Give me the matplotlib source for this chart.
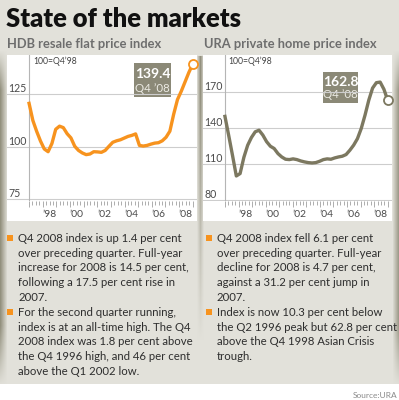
import matplotlib
matplotlib.use('Agg')
import matplotlib.pyplot as plt
from matplotlib.patches import Rectangle
import matplotlib.transforms as mtransforms
import numpy as np

plt.rcParams['font.family'] = ['Lato', 'DejaVu Sans']

# quarterly index, Q1 1998 .. Q4 2008 (100 = Q4 1998)
hdb_index = [120.7, 112.5, 107.3, 102.7, 98.9, 97.6, 101.5, 108.3, 109.8, 109.1,
             106.2, 104.2, 100.2, 98.2, 97.0, 96.2, 96.5, 97.6, 97.5, 97.3,
             98.2, 100.2, 102.1, 102.8, 103.3, 104.1, 104.9, 105.4, 106.1, 100.6,
             100.3, 100.6, 101.2, 101.7, 101.9, 102.8, 104.5, 107.4, 115.5, 122.5,
             126.5, 131.0, 135.5, 139.4]
ura_index = [149.5, 133.5, 117.0, 100.0, 102.0, 115.5, 125.5, 132.0, 136.7, 138.0,
             134.0, 128.5, 124.7, 122.8, 118.6, 115.8, 113.9, 113.6, 114.2, 113.6,
             112.5, 111.7, 111.1, 110.8, 111.1, 112.2, 113.6, 114.2, 113.9, 115.0,
             115.8, 116.4, 117.8, 121.4, 125.6, 131.0, 139.4, 150.5, 163.0, 173.0,
             177.5, 178.0, 172.0, 162.8]
last_quarter = "Q4 \u201908"
year_labels = ["\u201998", "\u201900", "\u201902", "\u201904", "\u201906", "\u201908"]
hdb_ticks = [75, 100, 125]
ura_ticks = [80, 110, 140, 170]

title = "State of the markets"
hdb_title = "HDB resale flat price index"
ura_title = "URA private home price index"
base_note = "100=Q4\u201998"
hdb_notes = [
    ["Q4 2008 index is up 1.4 per cent", "over preceding quarter. Full-year",
     "increase for 2008 is 14.5 per cent,", "following a 17.5 per cent rise in", "2007."],
    ["For the second quarter running,", "index is at an all-time high. The Q4",
     "2008 index was 1.8 per cent above", "the Q4 1996 high, and 46 per cent",
     "above the Q1 2002 low."],
]
ura_notes = [
    ["Q4 2008 index fell 6.1 per cent", "over preceding quarter. Full-year",
     "decline for 2008 is 4.7 per cent,", "against a 31.2 per cent jump in", "2007."],
    ["Index is now 10.3 per cent below", "the Q2 1996 peak but 62.8 per cent",
     "above the Q4 1998 Asian Crisis", "trough."],
]

W, H = 399, 400
ORANGE = '#f7931e'
OLIVE = '#7c7860'
BOX = '#8b8977'
BEIGE = np.array([226, 225, 218]) / 255.0
SHADE = np.array([128, 125, 104]) / 255.0

fig = plt.figure(figsize=(W / 100, H / 100), dpi=100)

# background with soft shadows at the edges
bg = np.ones((H, W, 3)) * BEIGE
ys = np.arange(H)[:, None]
xs = np.arange(W)[None, :]
side_v = np.clip((ys - 50) / 40, 0, 1) * np.clip((385 - ys) / 60, 0, 1)
left = np.clip(1 - xs / 7.0, 0, 1) * side_v * 0.8
right = np.clip((xs - 392) / 7.0, 0, 1) * side_v * 0.8
mid_v = np.clip((340 - ys) / 250, 0, 1) * (ys > 55)
mid = np.clip(1 - np.abs(xs - 200) / 3.5, 0, 1) * mid_v * 0.8
shade = np.clip(left + right + mid, 0, 1)[..., None]
bg = bg * (1 - shade) + SHADE * shade
bg[384:, :, :] = 1.0

ax_bg = fig.add_axes([0, 0, 1, 1])
ax_bg.imshow(bg, extent=(0, W, H, 0), aspect='auto', interpolation='bilinear')
ax_bg.set_xlim(0, W)
ax_bg.set_ylim(H, 0)
ax_bg.axis('off')

ax_bg.text(6, 19, title, fontsize=18.4, fontweight='heavy', color='#111111', va='center')
ax_bg.text(7, 44, hdb_title, fontsize=9.3, fontweight='bold', color='#6e6e6e', va='center')
ax_bg.text(204, 44, ura_title, fontsize=9.3, fontweight='bold', color='#6e6e6e', va='center')


def draw_panel(x0, x1, values, ticks, ylim, color, box, notes, bullet_x):
    ax_bg.add_patch(Rectangle((x0, 55), x1 - x0, 166, facecolor='white', edgecolor='none'))
    ax = fig.add_axes([x0 / W, 1 - 201 / H, (x1 - x0) / W, 146 / H])
    ax.set_facecolor('none')
    quarters = np.arange(len(values))
    ax.set_xlim(-5.8, len(values) - 1 + 1.13)
    ax.set_ylim(*ylim)
    for s in ax.spines.values():
        s.set_visible(False)
    ax.set_xticks([])
    ax.set_yticks([])

    for t in ticks:
        ax.axhline(t, color='#cdcdcd', lw=0.8, zorder=1)
        ax.text(0.006, t, str(t), transform=mtransforms.blended_transform_factory(ax.transAxes, ax.transData),
                fontsize=7.6, color='#4a4a4a', va='bottom', ha='left')
    ax.axvline(0, color='#b5b5b5', lw=0.8, zorder=1)
    ax.text(1.0, 0.955, base_note, transform=mtransforms.blended_transform_factory(ax.transData, ax.transAxes),
            fontsize=6.2, color='#444444', va='center', ha='left')

    ax.plot(quarters, values, color=color, lw=2.4, zorder=3, solid_joinstyle='round')
    ax.plot(quarters[-1], values[-1], 'o', mfc='white', mec=color, ms=6.5, mew=1.3, zorder=4, clip_on=False)

    # decorative year axis underneath
    n = len(values) - 1
    to_year = lambda q: 1997 + np.asarray(q) * 12.0 / n
    to_q = lambda y: (np.asarray(y) - 1997) * n / 12.0
    sec = ax.secondary_xaxis('bottom', functions=(to_year, to_q))
    sec.set_xticks(np.arange(1997, 2010))
    sec.set_xticks(np.arange(1997, 2009.01, 0.25), minor=True)
    sec.tick_params(which='major', length=4.0, width=0.6, color='#a0a0a0', labelbottom=False)
    sec.tick_params(which='minor', length=2.6, width=0.6, color='#a0a0a0')
    sec.spines['bottom'].set_visible(False)
    sec2 = ax.secondary_xaxis('bottom', functions=(to_year, to_q))
    sec2.set_xticks(np.arange(1998.5, 2009, 2), labels=year_labels)
    sec2.tick_params(length=0, pad=6.5, labelsize=7.4, labelcolor='#4a4a4a')
    sec2.spines['bottom'].set_visible(False)

    bx, by, bw, bh = box
    ax_bg.add_patch(Rectangle((bx, by), bw, bh, facecolor=BOX, edgecolor='none', zorder=5))
    ax_bg.text(bx + bw / 2, by + bh * 0.32, f"{values[-1]:.1f}", fontsize=10, fontweight='bold',
               color='white', ha='center', va='center', zorder=6)
    ax_bg.text(bx + bw / 2, by + bh * 0.75, last_quarter, fontsize=8.3, color='#ecebe4',
               ha='center', va='center', zorder=6)

    line = 0
    for note in notes:
        yc = 238.3 + line * 14.8
        ax_bg.add_patch(Rectangle((bullet_x, yc - 3), 6, 6, facecolor=ORANGE, edgecolor='none'))
        for text in note:
            ax_bg.text(bullet_x + 11, 238.3 + line * 14.8, text, fontsize=8.2, color='#2e2e2e',
                       va='center', ha='left')
            line += 1


draw_panel(7, 197, hdb_index, hdb_ticks, (74.05, 143.8), ORANGE, (134, 63.3, 37, 33.4), hdb_notes, 7.3)
draw_panel(203, 392, ura_index, ura_ticks, (79.2, 200.5), OLIVE, (323, 71.7, 35.3, 31), ura_notes, 205.7)

ax_bg.text(397, 395, "Source:URA", fontsize=6, color='#8a8a8a', ha='right', va='center')

fig.savefig('out.png', dpi=100)
